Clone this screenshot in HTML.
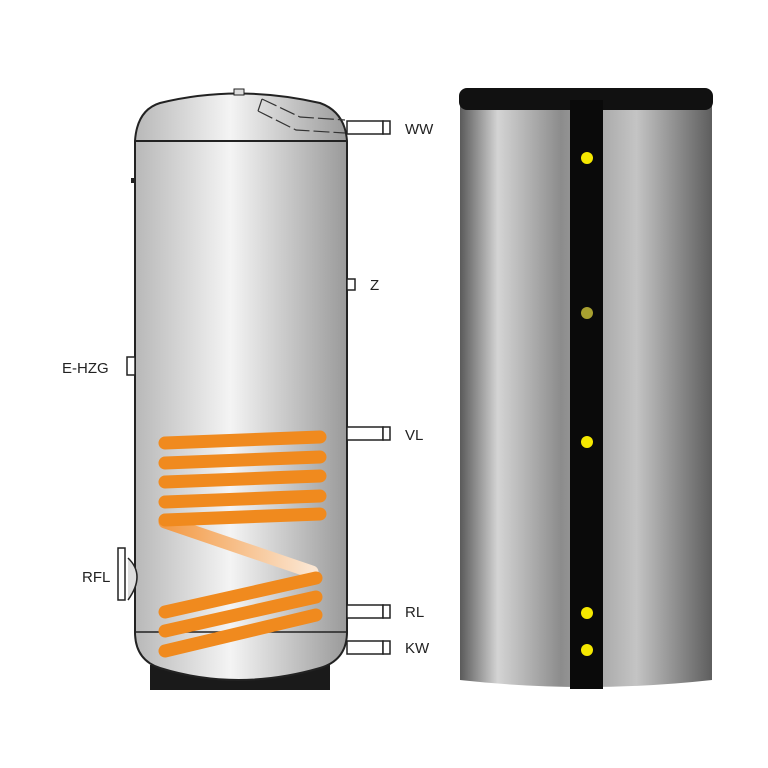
<!DOCTYPE html>
<html><head><style>body{margin:0;background:#fff}svg{display:block}text{font-family:"Liberation Sans",sans-serif;font-size:15px;fill:#222}</style></head><body>
<svg width="768" height="768" viewBox="0 0 768 768">
<defs>
<linearGradient id="lt" x1="0" x2="1"><stop offset="0" stop-color="#b8b8b8"/><stop offset=".45" stop-color="#f4f4f4"/><stop offset="1" stop-color="#9a9a9a"/></linearGradient>
<linearGradient id="rt" x1="0" x2="1"><stop offset="0" stop-color="#5a5a5a"/><stop offset=".15" stop-color="#d4d4d4"/><stop offset=".4" stop-color="#8c8c8c"/><stop offset=".7" stop-color="#c4c4c4"/><stop offset="1" stop-color="#5e5e5e"/></linearGradient>
<linearGradient id="dg" x1="0" x2="1"><stop offset="0" stop-color="#f39a45"/><stop offset="1" stop-color="#fbe6d2"/></linearGradient>
</defs>
<path d="M150 665 L330 665 L330 690 L150 690 Z" fill="#1a1a1a"/>
<path d="M135 141 Q137 110 160 103 Q237 84 320 103 Q345 112 347 141 L347 632 Q347 660 320 668 Q237 692 160 668 Q135 660 135 632 Z" fill="url(#lt)" stroke="#222" stroke-width="2"/>
<line x1="135" y1="141" x2="347" y2="141" stroke="#222" stroke-width="2"/>
<line x1="135" y1="632" x2="347" y2="632" stroke="#222" stroke-width="1.5"/>
<rect x="234" y="89" width="10" height="6" fill="#ddd" stroke="#222"/>
<path d="M262 99 L300 117 L345 120 M258 111 L296 130 L345 133 M262 99 L258 111" fill="none" stroke="#333" stroke-width="1.2" stroke-dasharray="16 4"/>
<rect x="131" y="178" width="4" height="5" fill="#222"/>
<g fill="#fff" stroke="#222" stroke-width="1.5">
<rect x="347" y="121" width="36" height="13"/><rect x="383" y="121" width="7" height="13"/>
<rect x="347" y="279" width="8" height="11"/>
<rect x="347" y="427" width="36" height="13"/><rect x="383" y="427" width="7" height="13"/>
<rect x="347" y="605" width="36" height="13"/><rect x="383" y="605" width="7" height="13"/>
<rect x="347" y="641" width="36" height="13"/><rect x="383" y="641" width="7" height="13"/>
<rect x="127" y="357" width="8" height="18"/>
<path d="M128 558 Q146 575 128 600" fill="#ddd"/>
<rect x="118" y="548" width="7" height="52"/>
</g>
<text x="405" y="134">WW</text><text x="370" y="290">Z</text><text x="405" y="440">VL</text><text x="405" y="617">RL</text><text x="405" y="653">KW</text>
<text x="62" y="373">E-HZG</text><text x="82" y="582">RFL</text>
<path d="M165 522 L312 572" stroke="url(#dg)" stroke-width="13" stroke-linecap="round"/>
<g stroke="#f08a1e" stroke-width="13" stroke-linecap="round" fill="none">
<line x1="165" y1="443" x2="320" y2="437"/><line x1="165" y1="463" x2="320" y2="457"/><line x1="165" y1="482" x2="320" y2="476"/><line x1="165" y1="502" x2="320" y2="496"/><line x1="165" y1="520" x2="320" y2="514"/>
<line x1="165" y1="612" x2="316" y2="578"/><line x1="165" y1="631" x2="316" y2="597"/><line x1="165" y1="651" x2="316" y2="615"/>
</g>
<path d="M460 100 L712 100 L712 680 Q586 694 460 680 Z" fill="url(#rt)"/>
<rect x="459" y="88" width="254" height="22" rx="8" fill="#111"/>
<path d="M570 100 L603 100 L603 689 L570 689 Z" fill="#0a0a0a"/>
<g fill="#f5e800"><circle cx="587" cy="158" r="6"/><circle cx="587" cy="313" r="6" fill="#a8a030"/><circle cx="587" cy="442" r="6"/><circle cx="587" cy="613" r="6"/><circle cx="587" cy="650" r="6"/></g>
</svg>
</body></html>
